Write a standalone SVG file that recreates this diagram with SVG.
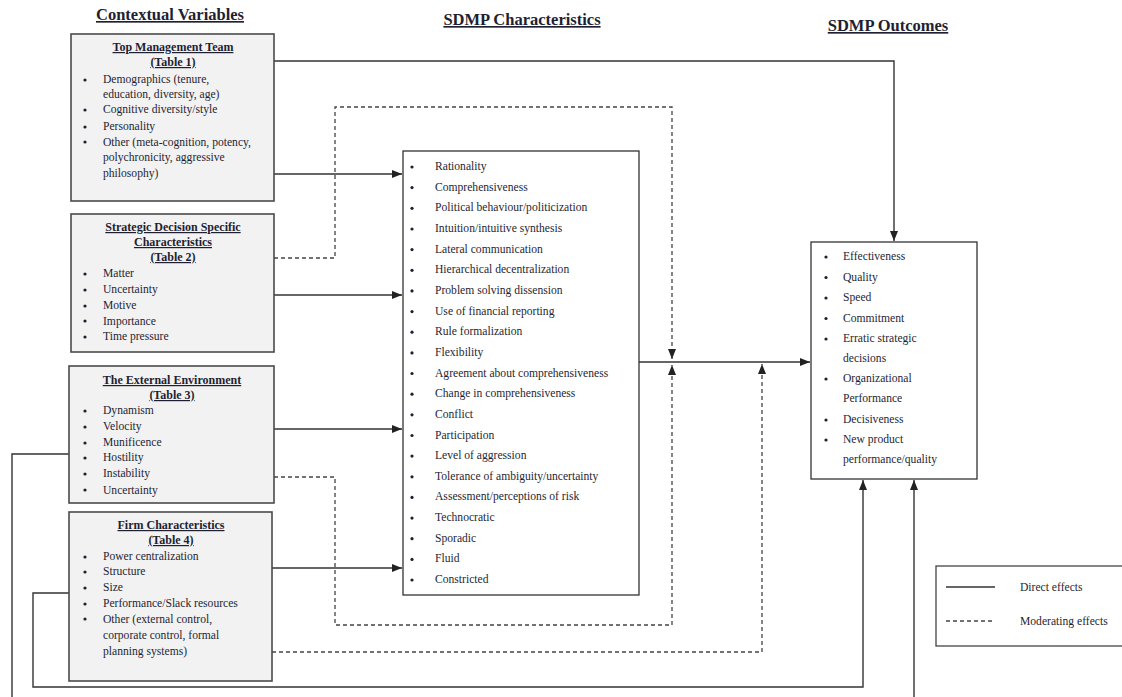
<svg xmlns="http://www.w3.org/2000/svg" width="1122" height="697" viewBox="0 0 1122 697">
<style>
text{font-family:"Liberation Serif","Times New Roman",serif;fill:#1f1f33;}
.h{font-size:16.5px;font-weight:bold;text-decoration:underline;text-anchor:middle;}
.t{font-size:12px;font-weight:bold;text-decoration:underline;text-anchor:middle;}
.i{font-size:11.6px;}
.lb{fill:#f2f2f2;stroke:#4a4a4a;stroke-width:1.6;}
.wb{fill:#ffffff;stroke:#333;stroke-width:1.3;}
.s{fill:none;stroke:#333;stroke-width:1.4;}
.d{fill:none;stroke:#444;stroke-width:1.3;stroke-dasharray:4 3;}
.b{fill:#1f1f33;}
</style>
<defs>
<marker id="ah" markerUnits="userSpaceOnUse" markerWidth="10" markerHeight="10" viewBox="0 0 10 10" refX="10" refY="5" orient="auto">
<path d="M0,1 L10,5 L0,9 Z" fill="#222"/>
</marker>
</defs>

<g id="headers">
<text class="h" x="170" y="20">Contextual Variables</text>
<text class="h" x="522" y="25">SDMP Characteristics</text>
<text class="h" x="888" y="31">SDMP Outcomes</text>
</g>

<g id="connectors">
<path class="s" d="M274,61 H894 V241" marker-end="url(#ah)"/>
<path class="s" d="M274,174 H402" marker-end="url(#ah)"/>
<path class="d" d="M274,258 H335 V107 H672 V359" marker-end="url(#ah)"/>
<path class="s" d="M274,295 H402" marker-end="url(#ah)"/>
<path class="s" d="M274,429 H402" marker-end="url(#ah)"/>
<path class="d" d="M274,477 H335 V625 H672 V365" marker-end="url(#ah)"/>
<path class="s" d="M69,454 H12 V697"/>
<path class="s" d="M272,568 H402" marker-end="url(#ah)"/>
<path class="d" d="M272,652 H762 V364" marker-end="url(#ah)"/>
<path class="s" d="M69,593 H33 V687 H863 V480" marker-end="url(#ah)"/>
<path class="s" d="M914,697 V480" marker-end="url(#ah)"/>
<path class="s" d="M639,362 H810" marker-end="url(#ah)"/>
</g>

<g id="tmt">
<rect class="lb" x="71" y="34" width="203" height="167"/>
<text class="t" x="173" y="51">Top Management Team</text>
<text class="t" x="173" y="66">(Table 1)</text>
<g class="i">
<circle class="b" cx="85" cy="80" r="1.6"/><text x="103" y="83">Demographics (tenure,</text>
<text x="103" y="98">education, diversity, age)</text>
<circle class="b" cx="85" cy="110" r="1.6"/><text x="103" y="113">Cognitive diversity/style</text>
<circle class="b" cx="85" cy="127" r="1.6"/><text x="103" y="130">Personality</text>
<circle class="b" cx="85" cy="142" r="1.6"/><text x="103" y="146">Other (meta-cognition, potency,</text>
<text x="103" y="161">polychronicity, aggressive</text>
<text x="103" y="177">philosophy)</text>
</g>
</g>

<g id="sdsc">
<rect class="lb" x="71" y="214" width="203" height="138"/>
<text class="t" x="173" y="231">Strategic Decision Specific</text>
<text class="t" x="173" y="246">Characteristics</text>
<text class="t" x="173" y="261">(Table 2)</text>
<g class="i">
<circle class="b" cx="85" cy="274" r="1.6"/><text x="103" y="277">Matter</text>
<circle class="b" cx="85" cy="290" r="1.6"/><text x="103" y="293">Uncertainty</text>
<circle class="b" cx="85" cy="306" r="1.6"/><text x="103" y="309">Motive</text>
<circle class="b" cx="85" cy="321" r="1.6"/><text x="103" y="325">Importance</text>
<circle class="b" cx="85" cy="337" r="1.6"/><text x="103" y="340">Time pressure</text>
</g>
</g>

<g id="external">
<rect class="lb" x="69" y="366" width="205" height="137"/>
<text class="t" x="172" y="384">The External Environment</text>
<text class="t" x="172" y="399">(Table 3)</text>
<g class="i">
<circle class="b" cx="85" cy="411" r="1.6"/><text x="103" y="414">Dynamism</text>
<circle class="b" cx="85" cy="427" r="1.6"/><text x="103" y="430">Velocity</text>
<circle class="b" cx="85" cy="443" r="1.6"/><text x="103" y="446">Munificence</text>
<circle class="b" cx="85" cy="458" r="1.6"/><text x="103" y="461">Hostility</text>
<circle class="b" cx="85" cy="474" r="1.6"/><text x="103" y="477">Instability</text>
<circle class="b" cx="85" cy="490" r="1.6"/><text x="103" y="494">Uncertainty</text>
</g>
</g>

<g id="firm">
<rect class="lb" x="69" y="512" width="203" height="169"/>
<text class="t" x="171" y="529">Firm Characteristics</text>
<text class="t" x="171" y="544">(Table 4)</text>
<g class="i">
<circle class="b" cx="85" cy="557" r="1.6"/><text x="103" y="560">Power centralization</text>
<circle class="b" cx="85" cy="572" r="1.6"/><text x="103" y="575">Structure</text>
<circle class="b" cx="85" cy="588" r="1.6"/><text x="103" y="591">Size</text>
<circle class="b" cx="85" cy="604" r="1.6"/><text x="103" y="607">Performance/Slack resources</text>
<circle class="b" cx="85" cy="619" r="1.6"/><text x="103" y="623">Other (external control,</text>
<text x="103" y="639">corporate control, formal</text>
<text x="103" y="655">planning systems)</text>
</g>
</g>

<g id="characteristics">
<rect class="wb" x="403" y="151" width="236" height="444"/>
<g class="i">
<circle class="b" cx="412" cy="167" r="1.6"/><text x="435" y="170">Rationality</text>
<circle class="b" cx="412" cy="187.6" r="1.6"/><text x="435" y="190.6">Comprehensiveness</text>
<circle class="b" cx="412" cy="208.3" r="1.6"/><text x="435" y="211.3">Political behaviour/politicization</text>
<circle class="b" cx="412" cy="229" r="1.6"/><text x="435" y="232">Intuition/intuitive synthesis</text>
<circle class="b" cx="412" cy="249.6" r="1.6"/><text x="435" y="252.6">Lateral communication</text>
<circle class="b" cx="412" cy="270.3" r="1.6"/><text x="435" y="273.3">Hierarchical decentralization</text>
<circle class="b" cx="412" cy="290.9" r="1.6"/><text x="435" y="293.9">Problem solving dissension</text>
<circle class="b" cx="412" cy="311.6" r="1.6"/><text x="435" y="314.6">Use of financial reporting</text>
<circle class="b" cx="412" cy="332.2" r="1.6"/><text x="435" y="335.2">Rule formalization</text>
<circle class="b" cx="412" cy="352.9" r="1.6"/><text x="435" y="355.9">Flexibility</text>
<circle class="b" cx="412" cy="373.5" r="1.6"/><text x="435" y="376.5">Agreement about comprehensiveness</text>
<circle class="b" cx="412" cy="394.2" r="1.6"/><text x="435" y="397.2">Change in comprehensiveness</text>
<circle class="b" cx="412" cy="414.8" r="1.6"/><text x="435" y="417.8">Conflict</text>
<circle class="b" cx="412" cy="435.5" r="1.6"/><text x="435" y="438.5">Participation</text>
<circle class="b" cx="412" cy="456.1" r="1.6"/><text x="435" y="459.1">Level of aggression</text>
<circle class="b" cx="412" cy="476.8" r="1.6"/><text x="435" y="479.8">Tolerance of ambiguity/uncertainty</text>
<circle class="b" cx="412" cy="497.4" r="1.6"/><text x="435" y="500.4">Assessment/perceptions of risk</text>
<circle class="b" cx="412" cy="518.1" r="1.6"/><text x="435" y="521.1">Technocratic</text>
<circle class="b" cx="412" cy="538.7" r="1.6"/><text x="435" y="541.7">Sporadic</text>
<circle class="b" cx="412" cy="559.4" r="1.6"/><text x="435" y="562.4">Fluid</text>
<circle class="b" cx="412" cy="580" r="1.6"/><text x="435" y="583">Constricted</text>
</g>
</g>

<g id="outcomes">
<rect class="wb" x="811" y="242" width="166" height="237"/>
<g class="i">
<circle class="b" cx="826" cy="257" r="1.6"/><text x="843" y="260">Effectiveness</text>
<circle class="b" cx="826" cy="277.5" r="1.6"/><text x="843" y="280.5">Quality</text>
<circle class="b" cx="826" cy="298" r="1.6"/><text x="843" y="301">Speed</text>
<circle class="b" cx="826" cy="318.5" r="1.6"/><text x="843" y="321.5">Commitment</text>
<circle class="b" cx="826" cy="339" r="1.6"/><text x="843" y="342">Erratic strategic</text>
<text x="843" y="362">decisions</text>
<circle class="b" cx="826" cy="379" r="1.6"/><text x="843" y="382">Organizational</text>
<text x="843" y="402">Performance</text>
<circle class="b" cx="826" cy="420" r="1.6"/><text x="843" y="423">Decisiveness</text>
<circle class="b" cx="826" cy="440" r="1.6"/><text x="843" y="443">New product</text>
<text x="843" y="463">performance/quality</text>
</g>
</g>

<g id="legend">
<rect x="936" y="566" width="190" height="80" fill="#fff" stroke="#444" stroke-width="1.3"/>
<line x1="946" y1="587" x2="995" y2="587" stroke="#333" stroke-width="1.4"/>
<text class="i" x="1020" y="591">Direct effects</text>
<line x1="946" y1="621" x2="995" y2="621" stroke="#444" stroke-width="1.3" stroke-dasharray="4 3"/>
<text class="i" x="1020" y="625">Moderating effects</text>
</g>
</svg>
